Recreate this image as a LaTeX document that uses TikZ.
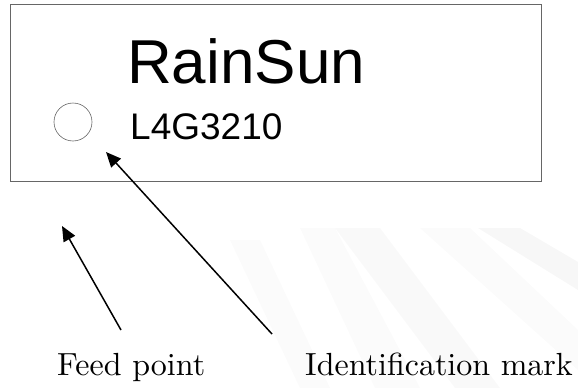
\documentclass[tikz,border=0pt]{standalone}
\usepackage{fontspec}
\newfontfamily\labelsans{Liberation Sans}
\newfontfamily\captionserif[Extension=.otf]{lmroman10-regular}
\usetikzlibrary{arrows.meta}

\tikzset{
  pointer/.style = {-{Triangle[length=15pt, width=13pt]}, line width=1.5pt},
  caption/.style = {anchor=base west, inner sep=0pt, font=\captionserif\fontsize{32}{32}\selectfont},
}

\begin{document}
\begin{tikzpicture}[x=1pt, y=-1pt]
    \useasboundingbox (0,0) rectangle (578,388);

    % faint background streaks
    \fill[gray!3] (300,228) -- (335,228) -- (420,388) -- (375,388) -- cycle;
    \fill[gray!5] (335,228) -- (380,228) -- (500,388) -- (455,388) -- cycle;
    \fill[gray!3] (420,228) -- (470,228) -- (578,330) -- (578,370) -- cycle;
    \fill[gray!6] (478,228) -- (520,228) -- (578,262) -- (578,290) -- cycle;
    \fill[gray!3] (230,240) -- (260,240) -- (330,388) -- (300,388) -- cycle;

    % tag outline
    \draw[gray!80!black, line width=0.8pt] (10,4.5) rectangle (541,181);
    \draw[gray!80!black, line width=0.6pt] (73,122) circle (19);

    \node[anchor=base west, inner sep=0pt, font=\labelsans\fontsize{62}{62}\selectfont] (brand) at (127,83) {RainSun};
    \node[anchor=base west, inner sep=0pt, font=\labelsans\fontsize{37}{37}\selectfont] (code) at (130,139) {L4G3210};

    % labels and pointers
    \node[caption] (feed) at (57,375) {Feed point};
    \node[caption] (mark) at (305,375) {Identification mark};

    \coordinate (feedtail) at (121,330);
    \coordinate (feedtip) at (62,226);
    \coordinate (marktail) at (272,334);
    \coordinate (marktip) at (106,152);

    \draw[pointer] (feedtail) -- (feedtip);
    \draw[pointer] (marktail) -- (marktip);
\end{tikzpicture}
\end{document}
